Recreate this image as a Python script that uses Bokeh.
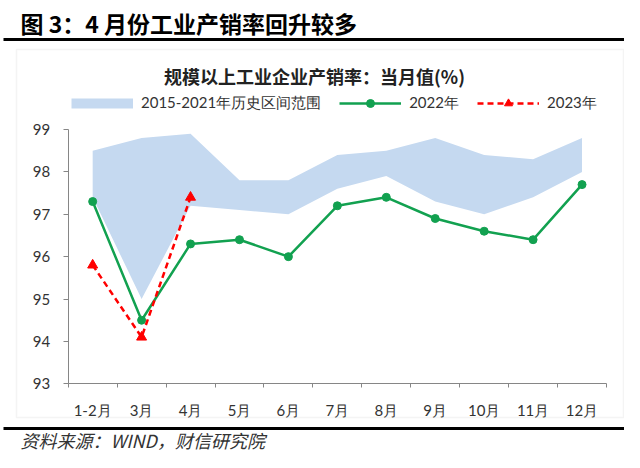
from bokeh.plotting import figure
from bokeh.models import Range1d, FixedTicker, Label, BoxAnnotation, Legend, LegendItem
from bokeh.embed import file_html
from bokeh.resources import INLINE

# ---------------- data ----------------
months = ["1-2月", "3月", "4月", "5月", "6月", "7月", "8月", "9月", "10月", "11月", "12月"]
band_low = [97.4, 95.0, 97.2, 97.1, 97.0, 97.6, 97.9, 97.3, 97.0, 97.4, 98.0]
band_high = [98.5, 98.8, 98.9, 97.8, 97.8, 98.4, 98.5, 98.8, 98.4, 98.3, 98.8]
y2022 = [97.3, 94.5, 96.3, 96.4, 96.0, 97.2, 97.4, 96.9, 96.6, 96.4, 97.7]
y2023 = [95.8, 94.1, 97.4]
y_ticks = [93, 94, 95, 96, 97, 98, 99]

fig_title = "图 3：4 月份工业产销率回升较多"
chart_title = "规模以上工业企业产销率：当月值(%)"
source_note = "资料来源：WIND，财信研究院"
band_name = "2015-2021年历史区间范围"
name_2022 = "2022年"
name_2023 = "2023年"

x = list(range(len(months)))
x23 = x[:len(y2023)]

BAND = "#c5d9f0"
GREEN = "#12a150"
RED = "#ff0000"
AXIS = "#868686"
TXT = "#333333"
CJK = "Noto Sans CJK SC"
LAT = "Lato"

# ---------------- layout geometry (pixels of the 624x452 canvas) ----------------
W, H = 624, 452
AX_L, AX_R = 67.7, 606.0      # x extent of the plotting area
AX_T, AX_B = 129.0, 383.3     # y extent of the plotting area (top, bottom)
n = len(months)
ppx = (AX_R - AX_L) / n
ppy = (AX_B - AX_T) / (y_ticks[-1] - y_ticks[0])
x_start = -0.5 - AX_L / ppx
x_end = -0.5 + (W - AX_L) / ppx
y_end = y_ticks[-1] + AX_T / ppy
y_start = y_ticks[0] - (H - AX_B) / ppy

p = figure(width=W, height=H, output_backend="svg", toolbar_location=None,
           x_range=Range1d(x_start, x_end), y_range=Range1d(y_start, y_end),
           min_border=0)
p.outline_line_color = None
p.xgrid.visible = False
p.ygrid.visible = False
p.background_fill_color = "white"
p.border_fill_color = "white"

band = p.varea(x=x, y1=band_low, y2=band_high, fill_color=BAND)
band_proxy = p.line(x=[float("nan")], y=[float("nan")], line_color=BAND, line_width=10)
gl = p.line(x, y2022, line_color=GREEN, line_width=2.5)
gs = p.scatter(x, y2022, marker="circle", size=8, fill_color=GREEN, line_color=GREEN)
rl = p.line(x23, y2023, line_color=RED, line_width=2.5, line_dash="6 4")
rs = p.scatter(x23, y2023, marker="triangle", size=10, fill_color=RED, line_color=RED)

# y axis
yax = p.yaxis[0]
yax.fixed_location = -0.5
yax.bounds = (y_ticks[0], y_ticks[-1])
yax.ticker = FixedTicker(ticks=y_ticks)
yax.axis_line_color = AXIS
yax.major_tick_line_color = AXIS
yax.major_tick_out = 5
yax.major_tick_in = 0
yax.minor_tick_line_color = None
yax.major_label_text_font = LAT
yax.major_label_text_font_size = "15px"
yax.major_label_text_color = TXT
yax.major_label_standoff = 13

# x axis: labels at centres, tick marks at category boundaries
xax = p.xaxis[0]
xax.fixed_location = y_ticks[0]
xax.bounds = (-0.5, n - 0.5)
xax.ticker = FixedTicker(ticks=x, minor_ticks=[i - 0.5 for i in range(n + 1)])
xax.major_label_overrides = {i: m for i, m in zip(x, months)}
xax.axis_line_color = AXIS
xax.major_tick_line_color = None
xax.major_tick_out = 0
xax.major_tick_in = 0
xax.minor_tick_line_color = AXIS
xax.minor_tick_out = 4
xax.minor_tick_in = 0
xax.major_label_text_font = LAT
xax.major_label_text_font_size = "15px"
xax.major_label_text_color = TXT
xax.major_label_standoff = 13

legend = Legend(items=[LegendItem(label=band_name, renderers=[band_proxy]),
                       LegendItem(label=name_2022, renderers=[gl, gs]),
                       LegendItem(label=name_2023, renderers=[rl, rs])],
                orientation="horizontal", location=(71, H - 113), glyph_width=62, glyph_height=20,
                label_standoff=8, spacing=18, padding=0, margin=0,
                border_line_color=None, background_fill_alpha=0,
                label_text_font=LAT, label_text_font_size="15px", label_text_color=TXT)
p.add_layout(legend, "center")


def sy(y_from_top):
    return H - y_from_top


def box(left, right, top, bottom, **kw):
    return BoxAnnotation(left=left, right=right, top=sy(top), bottom=sy(bottom),
                         left_units="screen", right_units="screen", top_units="screen",
                         bottom_units="screen", **kw)


p.add_layout(box(16, 623, 49, 417, fill_color=None, line_color="#d9d9d9", line_width=1.5))
for yy in (39, 428):
    p.add_layout(box(3, W, yy - 1.6, yy + 1.6, fill_color="black", fill_alpha=1, line_color=None))

p.add_layout(Label(x=20, y=sy(22), x_units="screen", y_units="screen", text=fig_title,
                   text_font=CJK, text_font_style="bold", text_font_size="23px",
                   text_color="black", text_baseline="middle", text_align="left"))
p.add_layout(Label(x=314, y=sy(75), x_units="screen", y_units="screen", text=chart_title,
                   text_font=CJK, text_font_style="bold", text_font_size="18px",
                   text_color="#222222", text_baseline="middle", text_align="center"))
p.add_layout(Label(x=20, y=sy(439), x_units="screen", y_units="screen", text=source_note,
                   text_font=CJK, text_font_style="italic", text_font_size="18px",
                   text_color=TXT, text_baseline="middle", text_align="left"))

open("out.html", "w").write(file_html(p, INLINE))
